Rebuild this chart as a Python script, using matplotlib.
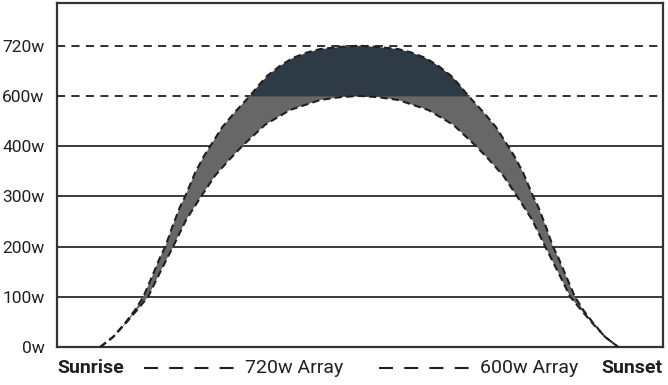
import matplotlib
matplotlib.use("Agg")
import matplotlib.pyplot as plt
import numpy as np

# y axis labels (the axis is not linear: 400w -> 600w -> 720w are evenly spaced)
tick_watts = [0, 100, 200, 300, 400, 600, 720]
tick_labels = ["0w", "100w", "200w", "300w", "400w", "600w", "720w"]

# 720w array output over the day (hour, watts)
hours_720 = [6.00, 6.30, 6.58, 6.81, 7.00, 7.20, 7.39, 7.51, 7.67, 7.85, 7.97, 8.20,
             8.41, 8.55, 8.83, 9.13, 9.47, 9.66, 9.87, 10.17, 10.47, 10.80, 11.10,
             11.56, 12.00,
             12.44, 12.90, 13.20, 13.53, 13.83, 14.13, 14.34, 14.53, 14.87, 15.17,
             15.45, 15.59, 15.80, 16.03, 16.15, 16.33, 16.49, 16.61, 16.80, 17.00,
             17.19, 17.42, 17.70, 18.00]
watts_720 = [0, 20, 48, 74, 100, 140, 179, 200, 239, 279, 300, 347,
             381, 400, 476, 537, 600, 624, 648, 672, 691, 704, 712,
             717, 720,
             717, 712, 704, 691, 672, 648, 624, 600, 537, 476,
             400, 381, 347, 300, 279, 239, 200, 179, 140, 100,
             74, 48, 20, 0]

# 600w array output over the day (hour, watts)
hours_600 = [6.00, 6.30, 6.58, 6.86, 7.11, 7.39, 7.69, 7.99, 8.34, 8.66, 8.97, 9.29,
             9.82, 10.40, 11.10, 11.56, 12.00,
             12.44, 12.90, 13.60, 14.18, 14.71, 15.03, 15.34, 15.66, 16.01, 16.31,
             16.61, 16.89, 17.14, 17.42, 17.70, 18.00]
watts_600 = [0, 20, 46, 74, 100, 149, 200, 253, 300, 341, 371, 400,
             485, 544, 584, 595, 600,
             595, 584, 544, 485, 400, 371, 341, 300, 253, 200,
             149, 100, 74, 46, 20, 0]

font = ["Roboto", "DejaVu Sans"]
ink = "#231f20"

# map watts onto evenly spaced label positions
w_knots = [-100] + tick_watts + [840]
p_knots = np.arange(-1, len(tick_watts) + 1)


def fwd(w):
    return np.interp(w, w_knots, p_knots)


def inv(p):
    return np.interp(p, p_knots, w_knots)


fig = plt.figure(figsize=(6.68, 3.85), dpi=100)
ax = fig.add_axes([57 / 668, 38 / 385, 606 / 668, 344 / 385])
ax.set_yscale("function", functions=(fwd, inv))

# grid lines
for w in tick_watts[1:]:
    if w >= 600:
        ax.axhline(w, color=ink, lw=1.3, ls=(0, (4.5, 3.5)), zorder=1)
    else:
        ax.axhline(w, color="#3a3a3a", lw=1.4, zorder=1)

# band between the two arrays
ax.fill(hours_720 + hours_600[::-1], watts_720 + watts_600[::-1],
        color="#676767", lw=0, zorder=2)
ax.fill_between(hours_720, 600, watts_720, where=np.array(watts_720) >= 600,
                interpolate=True, color="#2e3b47", lw=0, zorder=3)

ax.plot(hours_720, watts_720, color=ink, lw=1.5, ls=(0, (3.5, 2)), zorder=4)
ax.plot(hours_600, watts_600, color=ink, lw=1.5, ls=(0, (3.5, 2)), zorder=4)

ax.set_xlim(5.0, 19.04)
ax.set_ylim(0, inv(6.85))
ax.set_xticks([])
ax.set_yticks(tick_watts)
ax.set_yticklabels(tick_labels, family=font, fontsize=12.5, color=ink)
ax.yaxis.set_minor_locator(matplotlib.ticker.NullLocator())
ax.tick_params(axis="y", length=0, pad=9)
for s in ax.spines.values():
    s.set_color("#333333")
    s.set_linewidth(1.6)

# bottom key
ty = -0.06
key_dash = (0, (6.7, 5.4))
ax.text(0.0, ty, "Sunrise", transform=ax.transAxes, family=font, fontsize=14,
        fontweight="bold", ha="left", va="center", color=ink)
ax.text(1.0, ty, "Sunset", transform=ax.transAxes, family=font, fontsize=14,
        fontweight="bold", ha="right", va="center", color=ink)
ax.plot([(144 - 57) / 606, (234 - 57) / 606], [ty, ty], transform=ax.transAxes,
        clip_on=False, color=ink, lw=1.5, ls=key_dash, dash_capstyle="butt")
ax.text((245 - 57) / 606, ty, "720w Array", transform=ax.transAxes, family=font,
        fontsize=14, ha="left", va="center", color=ink)
ax.plot([(379 - 57) / 606, (469 - 57) / 606], [ty, ty], transform=ax.transAxes,
        clip_on=False, color=ink, lw=1.5, ls=key_dash, dash_capstyle="butt")
ax.text((480 - 57) / 606, ty, "600w Array", transform=ax.transAxes, family=font,
        fontsize=14, ha="left", va="center", color=ink)

fig.savefig("out.png", dpi=100)
